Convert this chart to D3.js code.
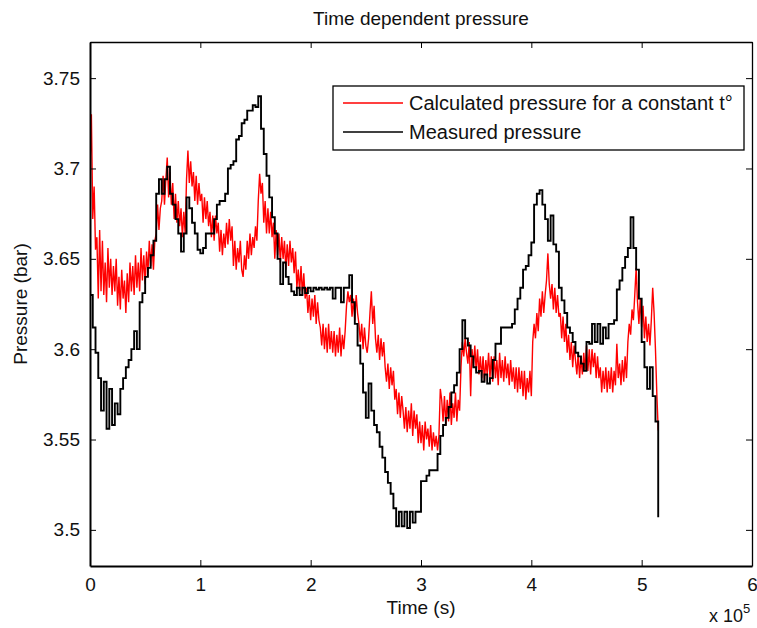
<!DOCTYPE html>
<html>
<head>
<meta charset="utf-8">
<script src="https://cdn.jsdelivr.net/npm/d3@7/dist/d3.min.js"></script>
<style>
  html, body { margin: 0; padding: 0; background: #fff; }
  svg { display: block; }
  text { font-family: "Liberation Sans", Arial, Helvetica, sans-serif; fill: #111; }
</style>
</head>
<body>
<script>
// Sampling intervals of the two pressure records (seconds)
const calculatedStep = 1250;
const measuredStep = 2500;

// Calculated pressure for a constant temperature (bar)
const calculatedPressure = [
  3.700, 3.730, 3.672, 3.690, 3.655, 3.662, 3.628, 3.666, 3.632, 3.660,
  3.630, 3.648, 3.626, 3.656, 3.634, 3.650, 3.630, 3.646, 3.632, 3.650,
  3.624, 3.640, 3.622, 3.644, 3.628, 3.638, 3.620, 3.642, 3.626, 3.648,
  3.632, 3.646, 3.630, 3.652, 3.634, 3.648, 3.632, 3.656, 3.638, 3.652,
  3.636, 3.654, 3.642, 3.660, 3.646, 3.658, 3.644, 3.660, 3.664, 3.680,
  3.666, 3.678, 3.682, 3.696, 3.680, 3.694, 3.706, 3.684, 3.698, 3.680,
  3.692, 3.672, 3.686, 3.670, 3.682, 3.668, 3.678, 3.662, 3.676, 3.664,
  3.694, 3.710, 3.692, 3.704, 3.690, 3.698, 3.682, 3.696, 3.680, 3.692,
  3.682, 3.686, 3.670, 3.684, 3.672, 3.682, 3.668, 3.676, 3.662, 3.674,
  3.660, 3.674, 3.664, 3.670, 3.654, 3.666, 3.652, 3.664, 3.656, 3.670,
  3.658, 3.672, 3.660, 3.668, 3.646, 3.660, 3.644, 3.656, 3.648, 3.660,
  3.644, 3.640, 3.652, 3.644, 3.660, 3.650, 3.664, 3.652, 3.662, 3.656,
  3.668, 3.660, 3.682, 3.697, 3.686, 3.692, 3.670, 3.682, 3.664, 3.678,
  3.664, 3.676, 3.662, 3.670, 3.650, 3.666, 3.652, 3.664, 3.648, 3.662,
  3.650, 3.660, 3.644, 3.658, 3.646, 3.660, 3.648, 3.656, 3.642, 3.654,
  3.634, 3.644, 3.632, 3.646, 3.630, 3.642, 3.628, 3.634, 3.620, 3.630,
  3.616, 3.628, 3.618, 3.630, 3.614, 3.626, 3.616, 3.612, 3.602, 3.614,
  3.600, 3.612, 3.598, 3.614, 3.600, 3.610, 3.598, 3.610, 3.596, 3.608,
  3.598, 3.612, 3.596, 3.608, 3.600, 3.610, 3.624, 3.632, 3.626, 3.630,
  3.618, 3.628, 3.616, 3.630, 3.620, 3.614, 3.604, 3.614, 3.600, 3.612,
  3.602, 3.598, 3.606, 3.620, 3.632, 3.614, 3.624, 3.606, 3.598, 3.608,
  3.594, 3.606, 3.596, 3.604, 3.590, 3.582, 3.592, 3.578, 3.590, 3.580,
  3.588, 3.572, 3.578, 3.564, 3.576, 3.562, 3.574, 3.566, 3.556, 3.568,
  3.554, 3.566, 3.556, 3.570, 3.552, 3.566, 3.556, 3.564, 3.548, 3.560,
  3.548, 3.558, 3.544, 3.560, 3.550, 3.556, 3.546, 3.558, 3.544, 3.554,
  3.546, 3.552, 3.544, 3.552, 3.578, 3.572, 3.560, 3.574, 3.558, 3.572,
  3.560, 3.576, 3.558, 3.570, 3.562, 3.576, 3.560, 3.572, 3.566, 3.590,
  3.604, 3.596, 3.606, 3.598, 3.592, 3.604, 3.574, 3.600, 3.590, 3.602,
  3.588, 3.600, 3.586, 3.596, 3.584, 3.596, 3.582, 3.594, 3.586, 3.598,
  3.584, 3.596, 3.582, 3.596, 3.584, 3.594, 3.580, 3.598, 3.584, 3.594,
  3.582, 3.596, 3.584, 3.592, 3.580, 3.594, 3.582, 3.590, 3.578, 3.590,
  3.576, 3.590, 3.578, 3.588, 3.574, 3.588, 3.572, 3.584, 3.576, 3.588,
  3.574, 3.604, 3.614, 3.606, 3.620, 3.610, 3.628, 3.618, 3.632, 3.620,
  3.630, 3.638, 3.653, 3.636, 3.628, 3.636, 3.622, 3.634, 3.620, 3.630,
  3.618, 3.620, 3.606, 3.618, 3.604, 3.614, 3.598, 3.608, 3.594, 3.604,
  3.590, 3.602, 3.594, 3.586, 3.598, 3.584, 3.596, 3.586, 3.598, 3.588,
  3.602, 3.588, 3.600, 3.586, 3.600, 3.590, 3.598, 3.584, 3.596, 3.584,
  3.590, 3.576, 3.588, 3.578, 3.590, 3.576, 3.588, 3.578, 3.590, 3.576,
  3.588, 3.580, 3.603, 3.584, 3.592, 3.580, 3.594, 3.582, 3.596, 3.584,
  3.604, 3.614, 3.608, 3.622, 3.616, 3.630, 3.645, 3.626, 3.614, 3.628,
  3.612, 3.624, 3.606, 3.618, 3.604, 3.614, 3.602, 3.616, 3.634, 3.620,
  3.600, 3.575, 3.555
];

// Measured pressure (bar)
const measuredPressure = [
  3.630, 3.612, 3.598, 3.584, 3.566, 3.582, 3.556, 3.578, 3.558, 3.570,
  3.564, 3.578, 3.584, 3.590, 3.594, 3.600, 3.610, 3.600, 3.626, 3.631,
  3.640, 3.645, 3.652, 3.660, 3.686, 3.694, 3.686, 3.694, 3.701, 3.686,
  3.680, 3.672, 3.664, 3.654, 3.664, 3.684, 3.678, 3.670, 3.664, 3.655,
  3.653, 3.656, 3.664, 3.664, 3.664, 3.672, 3.680, 3.682, 3.682, 3.686,
  3.700, 3.702, 3.704, 3.716, 3.718, 3.725, 3.727, 3.732, 3.732, 3.735,
  3.734, 3.740, 3.722, 3.708, 3.696, 3.684, 3.673, 3.664, 3.650, 3.636,
  3.648, 3.640, 3.636, 3.632, 3.630, 3.634, 3.630, 3.634, 3.631, 3.634,
  3.632, 3.634, 3.633, 3.634, 3.633, 3.634, 3.633, 3.634, 3.628, 3.634,
  3.634, 3.626, 3.634, 3.634, 3.641, 3.626, 3.614, 3.602, 3.592, 3.576,
  3.562, 3.581, 3.566, 3.558, 3.554, 3.546, 3.540, 3.532, 3.526, 3.520,
  3.512, 3.502, 3.510, 3.502, 3.510, 3.501, 3.510, 3.504, 3.510, 3.510,
  3.527, 3.527, 3.530, 3.533, 3.533, 3.533, 3.542, 3.552, 3.558, 3.562,
  3.568, 3.576, 3.580, 3.587, 3.600, 3.616, 3.606, 3.602, 3.596, 3.590,
  3.587, 3.588, 3.582, 3.586, 3.581, 3.584, 3.594, 3.603, 3.603, 3.612,
  3.612, 3.612, 3.612, 3.614, 3.622, 3.628, 3.634, 3.644, 3.646, 3.652,
  3.659, 3.680, 3.686, 3.688, 3.680, 3.672, 3.660, 3.674, 3.658, 3.654,
  3.634, 3.627, 3.620, 3.612, 3.609, 3.604, 3.598, 3.596, 3.592, 3.588,
  3.604, 3.603, 3.614, 3.604, 3.614, 3.603, 3.612, 3.606, 3.614, 3.614,
  3.616, 3.633, 3.638, 3.645, 3.651, 3.656, 3.673, 3.656, 3.644, 3.628,
  3.604, 3.590, 3.578, 3.590, 3.574, 3.560, 3.507
];

// Axis ticks and their labels
const timeTicks = [0, 100000, 200000, 300000, 400000, 500000, 600000];
const timeTickLabels = ["0", "1", "2", "3", "4", "5", "6"];
const pressureTicks = [3.5, 3.55, 3.6, 3.65, 3.7, 3.75];
const pressureTickLabels = ["3.5", "3.55", "3.6", "3.65", "3.7", "3.75"];

const seriesNames = ["Calculated pressure for a constant t\u00B0", "Measured pressure"];
const seriesColors = ["#ff0000", "#000000"];

const W = 757, H = 628;
const margin = { left: 90, top: 42, right: 5, bottom: 62 };
const plotW = W - margin.left - margin.right;
const plotH = H - margin.top - margin.bottom;

const svg = d3.select("body").append("svg")
  .attr("width", W).attr("height", H);

const x = d3.scaleLinear().domain([0, 600000]).range([0, plotW]);
const y = d3.scaleLinear().domain([3.48, 3.77]).range([plotH, 0]);

const g = svg.append("g").attr("transform", `translate(${margin.left},${margin.top})`);

g.append("defs").append("clipPath").attr("id", "plot-clip")
  .append("rect").attr("width", plotW).attr("height", plotH);

const toPoints = (vals, step) => vals.map((v, i) => [i * step, v]);

const line = d3.line().x(d => x(d[0])).y(d => y(d[1]));
const stepLine = d3.line().x(d => x(d[0])).y(d => y(d[1])).curve(d3.curveStepAfter);

const lines = g.append("g").attr("clip-path", "url(#plot-clip)");

lines.append("path")
  .datum(toPoints(calculatedPressure, calculatedStep))
  .attr("d", line)
  .attr("fill", "none")
  .attr("stroke", seriesColors[0])
  .attr("stroke-width", 1.4);

lines.append("path")
  .datum(toPoints(measuredPressure, measuredStep))
  .attr("d", stepLine)
  .attr("fill", "none")
  .attr("stroke", seriesColors[1])
  .attr("stroke-width", 1.9);

// Axes: ticks point inward, mirrored on the top and right edges
const tickLen = 6;
const fontSize = 19;

const xAxis = d3.axisBottom(x).tickValues(timeTicks)
  .tickFormat((d, i) => timeTickLabels[i]).tickSizeInner(-tickLen).tickSizeOuter(0).tickPadding(12);
const yAxis = d3.axisLeft(y).tickValues(pressureTicks)
  .tickFormat((d, i) => pressureTickLabels[i]).tickSizeInner(-tickLen).tickSizeOuter(0).tickPadding(10);

const gx = g.append("g").attr("transform", `translate(0,${plotH})`).call(xAxis);
const gy = g.append("g").call(yAxis);
const gxTop = g.append("g").call(d3.axisTop(x).tickValues(timeTicks).tickFormat("").tickSizeInner(-tickLen).tickSizeOuter(0));
const gyRight = g.append("g").attr("transform", `translate(${plotW},0)`)
  .call(d3.axisRight(y).tickValues(pressureTicks).tickFormat("").tickSizeInner(-tickLen).tickSizeOuter(0));

[gx, gy].forEach(a => {
  a.select(".domain").attr("stroke", "#000").attr("stroke-width", 2);
  a.selectAll(".tick line").attr("stroke", "#000").attr("stroke-width", 1);
  a.selectAll(".tick text").attr("font-size", fontSize).attr("fill", "#111")
    .attr("font-family", "Liberation Sans, Arial, sans-serif");
});
[gxTop, gyRight].forEach(a => {
  a.select(".domain").attr("stroke", "#000").attr("stroke-width", 1.3);
  a.selectAll(".tick line").attr("stroke", "#000").attr("stroke-width", 1);
});

// Title and axis labels
svg.append("text")
  .attr("x", margin.left + plotW / 2).attr("y", 25)
  .attr("text-anchor", "middle").attr("font-size", fontSize)
  .text("Time dependent pressure");

svg.append("text")
  .attr("x", margin.left + plotW / 2).attr("y", 614)
  .attr("text-anchor", "middle").attr("font-size", fontSize)
  .text("Time (s)");

svg.append("text")
  .attr("transform", `translate(27,${margin.top + plotH / 2}) rotate(-90)`)
  .attr("text-anchor", "middle").attr("font-size", fontSize)
  .text("Pressure (bar)");

// Exponent of the time axis
const expo = svg.append("text")
  .attr("x", 709).attr("y", 622).attr("font-size", 18);
expo.append("tspan").text("x 10");
expo.append("tspan").attr("dy", -9).attr("font-size", 13).text("5");

// Legend
const legend = svg.append("g").attr("transform", "translate(333,86)");
legend.append("rect")
  .attr("width", 411).attr("height", 64)
  .attr("fill", "#fff").attr("stroke", "#000").attr("stroke-width", 1.3);

seriesNames.forEach((name, i) => {
  const row = legend.append("g").attr("transform", `translate(0,${17 + i * 29})`);
  row.append("line")
    .attr("x1", 10).attr("x2", 70)
    .attr("stroke", seriesColors[i]).attr("stroke-width", 1.5);
  row.append("text")
    .attr("x", 76).attr("y", 7).attr("font-size", 20)
    .text(name);
});
</script>
</body>
</html>
